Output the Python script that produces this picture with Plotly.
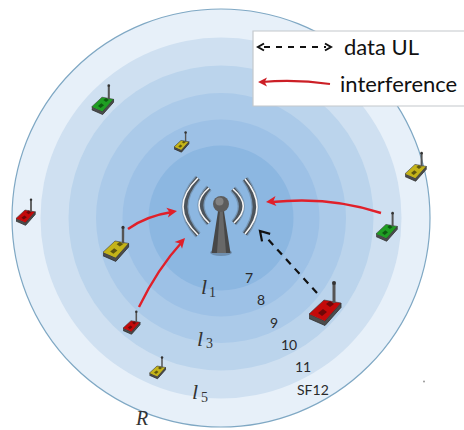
import math
import plotly.graph_objects as go

WIDTH, HEIGHT = 464, 430
CENTER = (221, 218)
RING_RADII = [209, 180.5, 152.5, 125, 98.5, 72.5]
RING_COLORS = ["#E7F0F9", "#CFE0F1", "#BBD4EC", "#ABCAE9", "#9DC1E6", "#8CB7E1"]

DEVICE_X = [324, 102, 181, 25, 115, 131, 157, 415, 386]
DEVICE_Y = [310, 104, 145, 216, 249, 326, 371, 171, 231]
DEVICE_SCALE = [1.0, 0.68, 0.46, 0.6, 0.8, 0.53, 0.5, 0.66, 0.66]
DEVICE_KIND = ["red", "green", "yellow", "red", "yellow", "red", "yellow", "yellow", "green"]
PALETTE = {
    "red": ("#C40A0A", "#6E0808"),
    "green": ("#1F9E22", "#0E5A12"),
    "yellow": ("#C4B318", "#5E5610"),
}

# start, control, end of each curve
RED_CURVES = [
    ((128, 229), (146, 216), (172, 212)),
    ((139, 307), (158, 268), (182, 242)),
    ((381, 213), (330, 196), (272, 202)),
]
RED_TIPS = [(177, 211), (185, 238), (266, 202)]
DASH_PATH = ([317, 265], [293, 236])
DASH_TIP = (260, 231)

ARCS = [
    ((198, 178), (168, 207), (198, 235)),
    ((209, 188), (189, 205), (209, 223)),
    ((245, 179), (269, 207), (245, 234)),
    ((233, 189), (253, 206), (234, 223)),
]

SF_LABELS = ["7", "8", "9", "10", "11", "SF12"]
SF_X = [249, 261, 274, 289, 303, 313]
SF_Y = [277, 299, 322, 344, 366, 389]

ITALIC_LABELS = ["l", "l", "l", "R"]
ITALIC_X = [204, 199.5, 195, 141]
ITALIC_Y = [286, 338, 391, 418]
ITALIC_SIZE = [22, 22, 22, 20]
SUB_LABELS = ["1", "3", "5"]
SUB_X = [212.5, 209, 204]
SUB_Y = [292, 343, 397]

LEGEND_LABELS = ["data UL", "interference"]
LEGEND_X = [381, 398]
LEGEND_Y = [46, 83]

fig = go.Figure()
shapes = []
for r, c in zip(RING_RADII, RING_COLORS):
    outer = r == RING_RADII[0]
    shapes.append(dict(type="circle", xref="x", yref="y", layer="below",
                       x0=CENTER[0] - r, x1=CENTER[0] + r, y0=CENTER[1] - r, y1=CENTER[1] + r,
                       fillcolor=c, line=dict(color="#7FA8C4" if outer else c, width=1.2 if outer else 0)))
shapes.append(dict(type="rect", xref="x", yref="y", layer="below", x0=253, x1=470, y0=31, y1=106,
                   fillcolor="white", line=dict(color="#C4C8CC", width=1.2)))
shapes.append(dict(type="circle", xref="x", yref="y", layer="below", x0=210, x1=232, y0=249, y1=256,
                   fillcolor="#6F8FAF", line=dict(width=0)))


def curve(p, color, w, opacity=1):
    path = f"M {p[0][0]} {p[0][1]} Q {p[1][0]} {p[1][1]} {p[2][0]} {p[2][1]}"
    shapes.append(dict(type="path", xref="x", yref="y", layer="above", path=path, opacity=opacity,
                       line=dict(color=color, width=w)))


def poly(xs, ys, fill, line_color="rgba(0,0,0,0)", w=0):
    fig.add_trace(go.Scatter(x=xs, y=ys, mode="lines", fill="toself", fillcolor=fill,
                             line=dict(color=line_color, width=w), hoverinfo="skip", showlegend=False))


def line(xs, ys, color, w, dash=None):
    fig.add_trace(go.Scatter(x=xs, y=ys, mode="lines",
                             line=dict(color=color, width=w, dash=dash),
                             hoverinfo="skip", showlegend=False))


def device(cx, cy, s, kind):
    top, dark = PALETTE[kind]
    d = 4.5
    P = lambda xs, ys: ([cx + a * s for a in xs], [cy + b * s for b in ys])
    x, y = P([-15, 1, 17, 17, 1, -15], [4, 11, -7, -7 + d, 11 + d, 4 + d])
    poly(x, y, "#4C4C4C", "#2E2E2E", 0.8)
    x, y = P([-15, 0, 17, 1], [4, -10, -7, 11])
    poly(x, y, top, "#3A3A3A", 0.6)
    x, y = P([-6, -1, 3, -2], [3, -1, 2, 6])
    poly(x, y, dark)
    x, y = P([2, 6, 10, 6], [-6, -9, -6, -3])
    poly(x, y, dark)
    x, y = P([10, 10], [-7, -26])
    line(x, y, "#555555", max(1.2, 3 * s))
    fig.add_trace(go.Scatter(x=[cx + 10 * s], y=[cy - 27 * s], mode="markers",
                             marker=dict(color="#333333", size=max(2.5, 4 * s)),
                             hoverinfo="skip", showlegend=False))


for a in zip(DEVICE_X, DEVICE_Y, DEVICE_SCALE, DEVICE_KIND):
    device(*a)


def arrow_pts(tip, frm, length, half):
    dx, dy = frm[0] - tip[0], frm[1] - tip[1]
    n = math.hypot(dx, dy)
    ux, uy = dx / n, dy / n
    a = (tip[0] + ux * length - uy * half, tip[1] + uy * length + ux * half)
    b = (tip[0] + ux * length + uy * half, tip[1] + uy * length - ux * half)
    c = (tip[0] + ux * length * 0.75, tip[1] + uy * length * 0.75)
    return a, b, c


def solid_head(tip, frm, color, length=10, half=5):
    a, b, c = arrow_pts(tip, frm, length, half)
    poly([tip[0], a[0], c[0], b[0]], [tip[1], a[1], c[1], b[1]], color)


def open_head(tip, frm, color, length=8, half=5, w=2):
    a, b, _ = arrow_pts(tip, frm, length, half)
    line([a[0], tip[0], b[0]], [a[1], tip[1], b[1]], color, w)


# tower arcs
for p in ARCS:
    sign = 1 if p[1][0] < p[0][0] else -1
    q = (p[0], (p[1][0] + sign * 4, p[1][1]), p[2])
    curve(q, "#3E3E3E", 7, 0.25)
    curve(q, "#3E3E3E", 4.5, 0.75)
    curve(p, "#F6F6F6", 1.6)

# tower body
poly([218.5, 223.5, 230.5, 211.5], [208, 208, 253, 253], "#474747")
poly([220, 222.5, 226, 217], [208, 208, 253, 253], "#686868")
fig.add_trace(go.Scatter(x=[221], y=[204], mode="markers",
                         marker=dict(color="#5C5C5C", size=16), hoverinfo="skip", showlegend=False))
fig.add_trace(go.Scatter(x=[219.5], y=[201.5], mode="markers",
                         marker=dict(color="#8C8C8C", size=8, opacity=0.8), hoverinfo="skip", showlegend=False))

# arrows
for p, tip in zip(RED_CURVES, RED_TIPS):
    curve(p, "#E0202A", 2.4)
    solid_head(tip, p[1], "#E0202A")
line(DASH_PATH[0], DASH_PATH[1], "#111111", 2.2, dash="7px,6px")
open_head(DASH_TIP, (DASH_PATH[0][0], DASH_PATH[1][0]), "#111111", length=9, half=5.5, w=2.2)

# legend samples
line([264, 326], [47, 47], "#111111", 1.8, dash="6px,6px")
open_head((258, 47), (266, 47), "#111111", length=6, half=3.5)
open_head((331, 47), (323, 47), "#111111", length=6, half=3.5)
curve(((262, 82), (295, 79), (330, 84)), "#CC1F26", 2)
solid_head((258, 82), (268, 82), "#CC1F26", length=9, half=4.5)

annots = []
for t, x, y in zip(SF_LABELS, SF_X, SF_Y):
    annots.append(dict(x=x, y=y, xref="x", yref="y", text=t, showarrow=False,
                       font=dict(family="Lato", size=14, color="#2A2A2A")))
for t, x, y, s in zip(ITALIC_LABELS, ITALIC_X, ITALIC_Y, ITALIC_SIZE):
    annots.append(dict(x=x, y=y, xref="x", yref="y", text=t, showarrow=False,
                       font=dict(family="Liberation Serif", size=s, style="italic", color="#333333")))
for t, x, y in zip(SUB_LABELS, SUB_X, SUB_Y):
    annots.append(dict(x=x, y=y, xref="x", yref="y", text=t, showarrow=False,
                       font=dict(family="Liberation Serif", size=14, color="#333333")))
for t, x, y in zip(LEGEND_LABELS, LEGEND_X, LEGEND_Y):
    annots.append(dict(x=x, y=y, xref="x", yref="y", text=t, showarrow=False,
                       font=dict(family="Lato", size=22, color="#111111")))

fig.add_trace(go.Scatter(x=[424], y=[381.5], mode="markers", marker=dict(color="#999999", size=2),
                         hoverinfo="skip", showlegend=False))

fig.update_layout(width=WIDTH, height=HEIGHT, margin=dict(l=0, r=0, t=0, b=0), autosize=False,
                  paper_bgcolor="white", plot_bgcolor="white", shapes=shapes, annotations=annots,
                  xaxis=dict(range=[0, WIDTH], visible=False, fixedrange=True),
                  yaxis=dict(range=[HEIGHT, 0], visible=False, fixedrange=True), showlegend=False)
fig.write_html("out.html", config={"displayModeBar": False},
               post_script="document.body.style.margin='0';document.body.style.overflow='hidden';")
